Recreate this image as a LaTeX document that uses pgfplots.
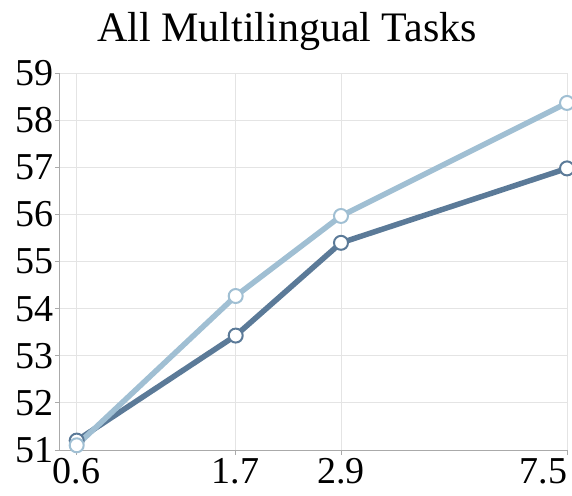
\documentclass[border=0pt]{standalone}
\usepackage{pgfplots}
\pgfplotsset{compat=1.18}
\usepackage{fontspec}
\setmainfont{Liberation Serif}

\definecolor{lightser}{HTML}{A0BFD3}
\definecolor{darkser}{HTML}{5B7A98}
\definecolor{gridc}{HTML}{E4E4E4}
\definecolor{axc}{HTML}{AAAAAA}

% model sizes (B) placed at fixed positions along the x axis
\pgfplotstableread{
pos    acc
0      51.20
159    53.43
264.3  55.40
490.3  56.98
}\darkdata
\pgfplotstableread{
pos    acc
0      51.10
159    54.27
264.3  55.97
490.3  58.37
}\lightdata

\begin{document}
\begin{tikzpicture}
\begin{axis}[
  scale only axis,
  width=507pt, height=376.7pt,
  xmin=-16.7, xmax=490.3,
  ymin=51, ymax=59,
  axis lines*=left,
  axis line style={axc, line width=1pt, -},
  grid=major,
  major grid style={gridc, line width=0.9pt},
  xtick={0,159,264.3,490.3},
  xticklabels={0.6,1.7,2.9,\llap{7.5}},
  ytick={51,52,...,59},
  tick align=outside,
  major tick length=5pt,
  tick style={axc, line width=1pt},
  /pgf/number format/assume math mode=true,
  ticklabel style={font=\fontsize{38}{40}\selectfont},
  yticklabel style={inner sep=1pt},
  xticklabel style={inner sep=3pt},
  title={All Multilingual Tasks},
  title style={font=\fontsize{42}{46}\selectfont, at={(0.448,1)}, anchor=base, yshift=26pt},
  clip=false,
]
\addplot[darkser, line width=5.5pt, mark=*, mark size=7pt,
  mark options={fill=white, draw=darkser, line width=2pt}]
  table[x=pos, y=acc] {\darkdata};
\addplot[lightser, line width=5.5pt, mark=*, mark size=7pt,
  mark options={fill=white, draw=lightser, line width=2pt}]
  table[x=pos, y=acc] {\lightdata};
\coordinate (bl) at (rel axis cs:0,0);
\coordinate (tr) at (rel axis cs:1,1);
\end{axis}
% frame of the figure: fixed margins around the plotting area
\pgfresetboundingbox
\path[use as bounding box] ([shift={(-60pt,-45pt)}]bl) rectangle ([shift={(5pt,73.3pt)}]tr);
\end{tikzpicture}
\end{document}
